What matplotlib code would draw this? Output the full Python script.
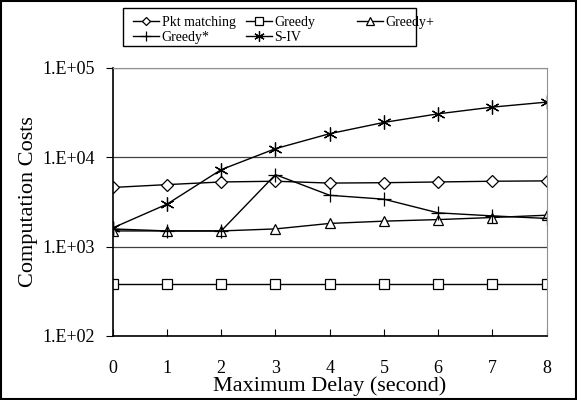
import matplotlib
matplotlib.use("Agg")
import matplotlib.pyplot as plt
from matplotlib.patches import Rectangle

plt.rcParams['font.family'] = ['Liberation Serif', 'DejaVu Serif']

delays = [0, 1, 2, 3, 4, 5, 6, 7, 8]
pkt_matching = [4600, 4950, 5300, 5400, 5150, 5200, 5300, 5400, 5450]
greedy = [385, 385, 385, 385, 385, 385, 385, 385, 385]
greedy_plus = [1500, 1500, 1500, 1580, 1820, 1930, 2010, 2120, 2250]
greedy_star = [1580, 1500, 1500, 6400, 3760, 3400, 2390, 2210, 2070]
s_iv = [1620, 2990, 7280, 12500, 18400, 24600, 30700, 36500, 41500]
y_ticks = [1e2, 1e3, 1e4, 1e5]
y_tick_labels = ['1.E+02', '1.E+03', '1.E+04', '1.E+05']

W, H = 577, 400
fig = plt.figure(figsize=(W / 100, H / 100), dpi=100)
ax = fig.add_axes([112.7 / W, 1 - 336 / H, (546.7 - 112.7) / W, (336 - 68) / H])

common = dict(color='black', linewidth=1.0, markersize=7, markerfacecolor='white',
              markeredgecolor='black', markeredgewidth=0.9)
l1, = ax.plot(delays, pkt_matching, marker='D', label='Pkt matching', **{**common, 'markersize': 6})
l2, = ax.plot(delays, greedy, marker='s', label='Greedy', **common)
l3, = ax.plot(delays, greedy_plus, marker='^', label='Greedy+', **common)
l4, = ax.plot(delays, greedy_star, marker='+', label='Greedy*', **{**common, 'markersize': 10})
l5, = ax.plot(delays, s_iv, marker=(6, 2, 0), label='S-IV', **{**common, 'markersize': 10})

ax.set_yscale('log')
ax.set_ylim(1e2, 1e5)
ax.set_xlim(0, 8)
ax.set_yticks(y_ticks)
ax.set_yticklabels(y_tick_labels)
ax.minorticks_off()
ax.set_xticks(delays)
ax.set_xticklabels([str(d) for d in delays])
ax.tick_params(axis='x', direction='in', length=5, labelsize=13, pad=17)
ax.tick_params(axis='y', direction='out', length=5, labelsize=13, pad=8)
ax.grid(axis='y', color='#404040', linewidth=0.9)
for s in ['top', 'right']:
    ax.spines[s].set_color('#909090')
for s in ['left', 'bottom']:
    ax.spines[s].set_color('black')
    ax.spines[s].set_linewidth(1.2)

ax.set_xlabel('Maximum Delay (second)', fontsize=16, labelpad=0)
ax.set_ylabel('Computation Costs', fontsize=16, labelpad=3)

# Legend: three equal-width columns inside one box
cols = [([l1, l4], 124), ([l2, l5], 237), ([l3], 348)]
for handles, x0 in cols:
    leg = fig.legend(handles, [h.get_label() for h in handles], loc='upper left',
                     bbox_to_anchor=(x0 / W, 1 - 7 / H), ncol=1, fontsize=10,
                     frameon=False, handlelength=1.9, handletextpad=0.15,
                     borderpad=0.15, labelspacing=0.12, markerscale=0.75)
fig.patches.append(Rectangle((123 / W, 1 - 46 / H), (416 - 123) / W, 38 / H,
                             transform=fig.transFigure, fill=False,
                             edgecolor='black', linewidth=1.0))

fig.patches.append(Rectangle((0.75 / W, 0.75 / H), 1 - 1.5 / W, 1 - 1.5 / H,
                             transform=fig.transFigure, fill=False,
                             edgecolor='black', linewidth=1.5))

fig.savefig('out.png', dpi=100)
